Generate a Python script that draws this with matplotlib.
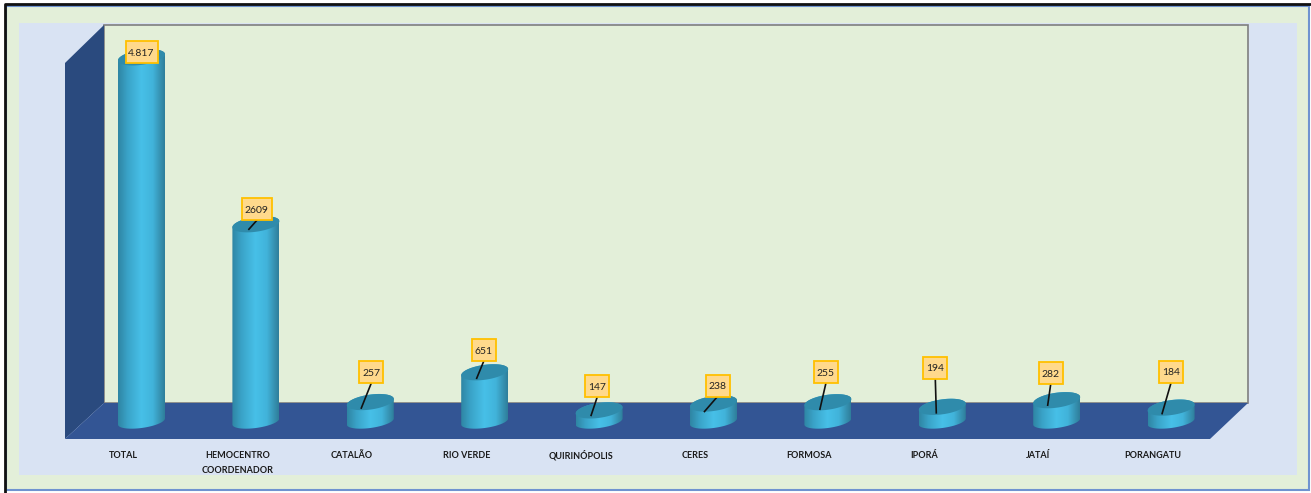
import numpy as np
import matplotlib.pyplot as plt
from matplotlib.colors import LinearSegmentedColormap
from matplotlib.patches import Polygon, Rectangle, PathPatch
from matplotlib.path import Path

plt.rcParams['font.family'] = ['Lato', 'DejaVu Sans']

categories = ['TOTAL', 'HEMOCENTRO\nCOORDENADOR', 'CATALÃO', 'RIO VERDE', 'QUIRINÓPOLIS',
              'CERES', 'FORMOSA', 'IPORÁ', 'JATAÍ', 'PORANGATU']
values = [4817, 2609, 257, 651, 147, 238, 255, 194, 282, 184]
value_labels = ['4.817', '2609', '257', '651', '147', '238', '255', '194', '282', '184']

# tudo em pixels da imagem
W, H = 1311, 493
Y_BASE = 421.5
Y_SCALE = 0.0756
X_FIRST = 141.5
X_STEP = 114.4
RX, RY, RY_LOW, TILT = 23.5, 7.5, 6.5, 0.13

# deslocamento da caixa e da linha em relação ao centro do topo do cilindro
box_dx = [0, 1, 1, -1, -2, 4, -2, -7, -6, 0]
box_dy = [-5, -15, -30, -22, -24, -18, -30, -39, -27, -36]
line_dx = [0, -7, -9, -8, -8, -9, -8, -6, -9, -9]
line_dy = [0, 5, 6, 6, 5, 8, 7, 6, 5, 6]
box_w = [32, 30, 24, 24, 24, 24, 24, 24, 24, 24]

grad = LinearSegmentedColormap.from_list(
    'cyl', [(0, '#2f86a4'), (0.2, '#3aa3c8'), (0.5, '#47c0e8'), (0.75, '#41b3da'), (0.92, '#358fae'), (1, '#2f7f9c')])


def ellipse_pts(cx, cy, t, ry=RY):
    return np.column_stack([cx + RX * np.cos(t), cy + ry * np.sin(t) - TILT * RX * np.cos(t)])


def draw_cylinder(ax, cx, value):
    top = Y_BASE - value * Y_SCALE
    lower = ellipse_pts(cx, Y_BASE, np.linspace(0, np.pi, 60), RY_LOW)
    upper = ellipse_pts(cx, top, np.linspace(np.pi, 2 * np.pi, 60))
    body = np.vstack([lower, upper, lower[:1]])
    clip = PathPatch(Path(body), transform=ax.transData, fc='none', ec='none')
    ax.add_patch(clip)
    im = ax.imshow(np.linspace(0, 1, 64).reshape(1, -1), cmap=grad, aspect='auto',
                   extent=(cx - RX, cx + RX, Y_BASE + 20, top - 20), zorder=3)
    im.set_clip_path(clip)
    lid = ellipse_pts(cx, top, np.linspace(0, 2 * np.pi, 80))
    ax.add_patch(Polygon(lid, closed=True, fc='#2f8bab', ec='none', zorder=4))
    return top


fig = plt.figure(figsize=(W / 100, H / 100), dpi=100)
ax = fig.add_axes([0, 0, 1, 1])
ax.set_axis_off()

# molduras
ax.add_patch(Rectangle((0, 0), W, H, fc='white', ec='none', zorder=0))
ax.add_patch(Rectangle((6, 6), 1303, 484, fc='#e3efd9', ec='#6f93d0', lw=1.5, zorder=0.5))
ax.plot([4.5, 4.5, 1311], [493, 4, 4], color='#111111', lw=2, zorder=0.6)
ax.add_patch(Rectangle((19, 23), 1278, 452, fc='#d9e3f3', ec='none', zorder=1))

# paredes 3D
ax.add_patch(Rectangle((104, 25), 1144, 378, fc='#e3efd9', ec='#7f7f7f', lw=1.2, zorder=1.5))
ax.add_patch(Polygon([(65, 63), (104, 25), (104, 403), (65, 439)], fc='#2a4a7e', ec='none', zorder=2))
ax.add_patch(Polygon([(65, 439), (104, 403), (1248, 403), (1210, 439)], fc='#335594', ec='none', zorder=2))

for i, (name, val, txt) in enumerate(zip(categories, values, value_labels)):
    cx = X_FIRST + i * X_STEP
    top = draw_cylinder(ax, cx, val)
    bx = cx + box_dx[i]
    by = top + box_dy[i]
    if i > 0:
        ax.plot([bx, cx + line_dx[i]], [by + 11, top + line_dy[i]], color='#111111', lw=1.2, zorder=5)
    ax.add_patch(Rectangle((bx - box_w[i] / 2, by - 11), box_w[i], 22, fc='#ffd98c', ec='#ffc000', lw=1.3, zorder=5.5))
    ax.text(bx, by + 3.5, txt, ha='center', va='baseline', fontsize=7.5, color='#222222', zorder=6)
    ax.text(cx - 18.5, 458, name.split('\n')[0], ha='center', va='baseline', fontsize=6.5, fontweight='bold',
            color='#1a1a1a', zorder=6)
    if '\n' in name:
        ax.text(cx - 18.5, 473, name.split('\n')[1], ha='center', va='baseline', fontsize=6.5, fontweight='bold',
                color='#1a1a1a', zorder=6)

ax.set_xlim(0, W)
ax.set_ylim(H, 0)
fig.savefig('out.png', dpi=100)
